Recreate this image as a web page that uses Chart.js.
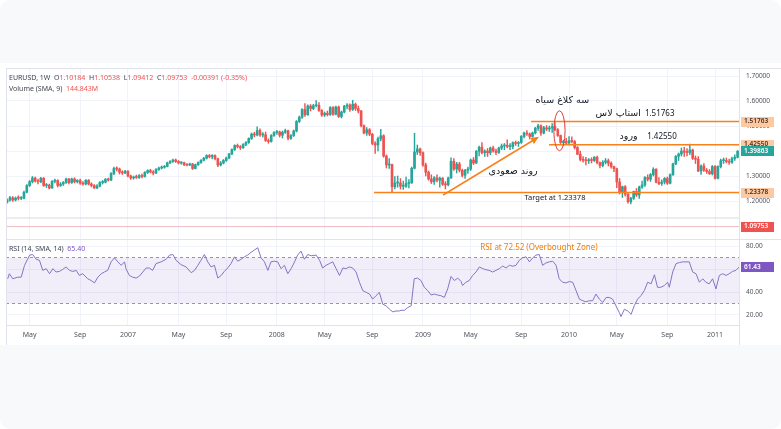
<!DOCTYPE html>
<html>
<head>
<meta charset="utf-8">
<title>EURUSD 1W</title>
<script src="https://cdn.jsdelivr.net/npm/chart.js"></script>
<style>
  body { margin: 0; background: #fff; }
  #frame { position: absolute; left: 0; top: 0; width: 781px; height: 429px; background: #f8f9fb; border-radius: 10px; }
  #panel { position: absolute; left: 0; top: 63px; width: 781px; height: 282px; background: #fff; }
  canvas { position: absolute; left: 0; top: 0; }
</style>
</head>
<body>
<div id="frame"></div>
<div id="panel"></div>
<canvas id="eurusd" width="781" height="429"></canvas>

<script>
// weekly candles, week 0 = first week of March 2006
const firstOpen = 1.195;
const closes = [
  1.203,1.213,1.204,1.212,1.211,1.211,1.235,1.262,1.277,1.292,
  1.280,1.277,1.291,1.262,1.263,1.252,1.279,1.282,1.262,1.268,
  1.274,1.288,1.274,1.288,1.277,1.282,1.271,1.268,1.283,1.268,
  1.262,1.252,1.260,1.274,1.275,1.287,1.284,1.310,1.330,1.328,
  1.315,1.312,1.319,1.300,1.292,1.296,1.294,1.302,1.298,1.314,
  1.322,1.316,1.312,1.326,1.332,1.335,1.338,1.352,1.358,1.364,
  1.358,1.352,1.353,1.345,1.344,1.348,1.330,1.345,1.354,1.363,
  1.371,1.382,1.377,1.382,1.369,1.344,1.352,1.362,1.372,1.388,
  1.406,1.422,1.417,1.413,1.426,1.434,1.450,1.468,1.464,1.482,
  1.464,1.465,1.442,1.438,1.462,1.474,1.476,1.463,1.475,1.481,
  1.451,1.462,1.480,1.518,1.535,1.566,1.545,1.580,1.570,1.581,
  1.583,1.562,1.544,1.551,1.546,1.574,1.547,1.576,1.538,1.556,
  1.579,1.584,1.566,1.587,1.570,1.560,1.501,1.472,1.485,1.467,
  1.430,1.424,1.449,1.461,1.380,1.344,1.346,1.257,1.272,1.272,
  1.259,1.259,1.270,1.273,1.331,1.396,1.408,1.393,1.344,1.315,
  1.288,1.277,1.293,1.283,1.291,1.267,1.265,1.292,1.359,1.328,
  1.348,1.323,1.303,1.323,1.328,1.364,1.352,1.399,1.415,1.393,
  1.400,1.393,1.412,1.400,1.394,1.412,1.420,1.423,1.418,1.418,
  1.433,1.430,1.434,1.458,1.472,1.468,1.458,1.472,1.491,1.501,
  1.472,1.493,1.488,1.492,1.497,1.485,1.462,1.434,1.438,1.432,
  1.441,1.438,1.414,1.387,1.366,1.363,1.361,1.363,1.362,1.375,
  1.353,1.342,1.355,1.361,1.351,1.338,1.329,1.276,1.236,1.257,
  1.227,1.197,1.211,1.238,1.224,1.256,1.264,1.294,1.287,1.306,
  1.327,1.275,1.270,1.276,1.290,1.271,1.305,1.349,1.379,1.388,
  1.400,1.395,1.394,1.404,1.371,1.367,1.320,1.340,1.323,1.318,
  1.309,1.338,1.291,1.338,1.361,1.361,1.358,1.355,1.370,1.375,1.399
];
const highs = [
  1.209,1.219,1.218,1.216,1.221,1.218,1.240,1.266,1.282,1.298,
  1.296,1.288,1.295,1.294,1.270,1.268,1.282,1.288,1.285,1.274,
  1.278,1.292,1.291,1.292,1.293,1.286,1.288,1.278,1.286,1.286,
  1.273,1.266,1.266,1.278,1.282,1.290,1.292,1.314,1.336,1.337,
  1.332,1.321,1.323,1.322,1.304,1.300,1.304,1.306,1.308,1.318,
  1.325,1.327,1.322,1.330,1.336,1.340,1.342,1.356,1.362,1.368,
  1.368,1.362,1.357,1.356,1.349,1.352,1.351,1.348,1.357,1.366,
  1.375,1.385,1.386,1.386,1.385,1.372,1.358,1.366,1.376,1.391,
  1.409,1.425,1.428,1.422,1.430,1.438,1.453,1.472,1.475,1.497,
  1.489,1.474,1.476,1.449,1.466,1.478,1.483,1.480,1.480,1.488,
  1.484,1.466,1.484,1.522,1.540,1.570,1.590,1.585,1.586,1.587,
  1.602,1.594,1.566,1.556,1.560,1.578,1.578,1.580,1.580,1.560,
  1.583,1.590,1.589,1.603,1.592,1.580,1.563,1.505,1.494,1.490,
  1.471,1.438,1.456,1.487,1.465,1.384,1.370,1.348,1.298,1.300,
  1.290,1.280,1.296,1.286,1.336,1.471,1.424,1.412,1.397,1.352,
  1.320,1.305,1.298,1.305,1.296,1.294,1.278,1.296,1.373,1.370,
  1.355,1.355,1.328,1.327,1.336,1.368,1.374,1.402,1.420,1.434,
  1.405,1.410,1.416,1.420,1.408,1.416,1.428,1.430,1.445,1.430,
  1.437,1.440,1.438,1.462,1.476,1.482,1.472,1.476,1.495,1.508,
  1.505,1.499,1.502,1.500,1.510,1.514,1.490,1.464,1.444,1.451,
  1.458,1.457,1.442,1.418,1.400,1.378,1.375,1.370,1.373,1.378,
  1.380,1.357,1.362,1.370,1.368,1.357,1.340,1.332,1.290,1.260,
  1.262,1.232,1.215,1.240,1.250,1.260,1.280,1.298,1.305,1.310,
  1.333,1.330,1.294,1.285,1.294,1.296,1.309,1.352,1.382,1.392,
  1.412,1.415,1.410,1.428,1.408,1.380,1.378,1.345,1.350,1.330,
  1.326,1.342,1.342,1.341,1.368,1.372,1.372,1.368,1.376,1.385,1.402
];
const lows = [
  1.191,1.199,1.198,1.200,1.204,1.205,1.208,1.232,1.258,1.272,
  1.275,1.268,1.273,1.258,1.254,1.248,1.250,1.272,1.256,1.258,
  1.262,1.270,1.268,1.270,1.272,1.272,1.266,1.263,1.264,1.264,
  1.256,1.250,1.249,1.256,1.268,1.272,1.279,1.281,1.305,1.320,
  1.308,1.306,1.309,1.296,1.286,1.287,1.290,1.290,1.292,1.295,
  1.310,1.312,1.304,1.309,1.322,1.328,1.331,1.336,1.349,1.354,
  1.354,1.348,1.347,1.341,1.340,1.341,1.326,1.328,1.342,1.350,
  1.360,1.368,1.372,1.368,1.364,1.337,1.340,1.348,1.358,1.368,
  1.385,1.402,1.412,1.406,1.410,1.421,1.430,1.446,1.456,1.460,
  1.458,1.455,1.438,1.431,1.435,1.458,1.466,1.456,1.452,1.470,
  1.444,1.446,1.458,1.476,1.514,1.530,1.538,1.542,1.560,1.565,
  1.576,1.558,1.538,1.538,1.540,1.542,1.542,1.544,1.534,1.532,
  1.552,1.568,1.558,1.562,1.562,1.552,1.496,1.468,1.462,1.461,
  1.425,1.390,1.400,1.440,1.375,1.332,1.330,1.233,1.248,1.255,
  1.248,1.246,1.254,1.252,1.270,1.328,1.386,1.382,1.338,1.300,
  1.283,1.270,1.266,1.276,1.255,1.262,1.248,1.260,1.290,1.322,
  1.312,1.316,1.296,1.290,1.310,1.322,1.346,1.350,1.380,1.388,
  1.378,1.378,1.385,1.395,1.385,1.390,1.405,1.405,1.412,1.405,
  1.408,1.422,1.418,1.430,1.452,1.462,1.448,1.455,1.468,1.482,
  1.462,1.468,1.481,1.478,1.474,1.481,1.458,1.430,1.425,1.428,
  1.424,1.432,1.408,1.385,1.360,1.355,1.344,1.350,1.352,1.358,
  1.348,1.332,1.336,1.348,1.340,1.331,1.317,1.253,1.228,1.214,
  1.219,1.191,1.188,1.206,1.218,1.210,1.250,1.258,1.280,1.278,
  1.300,1.272,1.265,1.262,1.268,1.266,1.268,1.302,1.345,1.362,
  1.380,1.378,1.380,1.385,1.366,1.350,1.317,1.306,1.318,1.310,
  1.306,1.304,1.287,1.288,1.332,1.350,1.352,1.346,1.350,1.362,1.372
];

// RSI (14): [week, value]
const rsiPoints = [
  [0.2,51.5],[0.8,55.9],[2.0,51.5],[3.8,52.9],[5.0,52.9],[6.2,63.2],[8.0,72.1],[9.1,72.6],[10.3,68.5],[11.5,67.6],
  [12.7,58.8],[13.9,60.3],[15.1,55.9],[16.3,60.3],[17.4,57.4],[18.6,57.9],[19.8,59.7],[21.0,61.8],[22.2,58.8],[23.4,57.9],
  [24.6,58.8],[25.7,54.4],[26.9,55.9],[28.7,51.5],[29.9,50.0],[31.1,47.9],[32.3,52.9],[33.5,55.9],[34.6,57.4],[35.8,58.8],
  [37.0,66.2],[38.2,69.7],[39.4,66.2],[40.6,63.2],[41.8,66.2],[42.3,60.3],[43.5,54.4],[44.7,52.9],[45.9,52.1],[47.1,53.8],
  [48.3,57.4],[49.5,60.9],[50.6,60.9],[51.8,58.8],[53.0,64.7],[54.8,66.2],[56.6,68.5],[57.8,72.1],[59.0,72.6],[60.1,67.6],
  [61.9,63.8],[63.7,61.8],[65.5,56.8],[66.7,58.8],[67.9,63.2],[69.0,67.6],[70.2,72.6],[71.4,66.2],[72.6,61.8],[73.8,63.2],
  [75.0,52.1],[76.2,54.4],[77.3,57.9],[78.5,60.9],[79.7,64.7],[80.9,70.6],[82.1,66.8],[83.3,68.5],[84.5,70.6],[85.6,72.1],
  [86.8,74.4],[88.0,76.5],[89.2,78.5],[90.4,69.7],[91.6,66.2],[92.8,58.8],[93.9,66.2],[95.1,66.8],[96.3,66.2],[97.5,60.3],
  [98.7,63.2],[99.9,55.9],[101.1,60.3],[102.3,66.2],[103.4,72.1],[104.6,75.6],[105.8,68.5],[107.0,72.6],[108.2,71.5],[110.0,72.1],
  [111.2,67.6],[112.3,60.9],[113.5,63.2],[114.7,64.7],[115.9,66.2],[117.1,60.3],[118.3,54.4],[119.5,60.9],[120.6,60.3],[121.8,61.8],
  [123.0,60.9],[124.2,57.4],[125.4,48.5],[126.6,41.2],[127.8,39.7],[129.0,38.2],[130.1,33.8],[131.3,36.8],[132.5,39.7],[133.7,29.4],
  [134.9,28.0],[136.1,25.0],[137.3,22.7],[138.4,23.5],[139.6,23.5],[140.2,24.1],[141.4,24.1],[142.6,26.5],[143.8,28.0],[144.9,51.5],
  [146.1,52.1],[147.3,50.0],[148.5,44.1],[149.7,41.2],[150.9,37.4],[152.1,38.2],[153.2,37.4],[154.4,36.8],[155.6,35.3],[156.8,42.6],
  [158.0,53.5],[159.2,50.0],[160.4,52.1],[161.6,49.1],[162.1,45.6],[163.3,48.5],[164.5,50.0],[165.7,54.4],[166.9,57.4],[168.1,61.8],
  [169.3,60.3],[170.4,59.4],[171.6,58.8],[172.8,57.4],[174.0,58.8],[175.2,60.3],[176.4,62.6],[177.6,60.9],[178.8,63.2],[180.0,62.4],
  [181.1,63.2],[182.3,67.6],[183.5,69.7],[184.7,70.6],[185.9,66.2],[187.1,69.7],[188.2,72.1],[189.4,72.6],[190.6,63.2],[191.8,65.3],
  [193.0,66.2],[194.2,66.8],[195.4,63.2],[196.5,51.5],[197.7,48.5],[198.9,47.9],[200.1,49.1],[201.3,48.5],[202.5,41.2],[203.7,33.8],
  [204.9,32.4],[206.0,31.5],[207.2,32.4],[208.4,32.4],[209.6,38.2],[210.8,33.8],[212.0,30.9],[213.2,35.3],[214.3,35.3],[215.5,33.8],
  [216.7,28.0],[217.9,22.1],[218.5,18.6],[219.7,25.0],[220.9,23.5],[222.1,20.6],[223.2,28.0],[224.4,33.8],[225.6,36.8],[226.8,41.2],
  [228.0,48.5],[229.2,47.1],[230.4,55.0],[231.5,44.1],[232.7,44.1],[233.9,45.6],[235.1,48.5],[235.7,44.1],[236.9,57.4],[238.1,64.7],
  [239.3,65.6],[240.4,66.2],[241.6,66.2],[242.8,66.2],[244.0,57.4],[245.2,55.9],[246.4,48.5],[247.6,51.5],[248.7,48.5],[249.9,47.1],
  [251.1,51.5],[252.3,42.7],[253.5,54.4],[254.7,55.9],[255.9,54.4],[257.0,55.9],[258.2,57.9],[259.4,58.8],[260.6,61.8]
];

const tickWeeks = [8, 26, 43, 61, 78, 96, 113, 130, 148, 165, 183, 200, 217, 235, 252];
const tickLabels = ['May','Sep','2007','May','Sep','2008','May','Sep','2009','May','Sep','2010','May','Sep','2011'];
const priceTicks = [1.1, 1.2, 1.3, 1.4, 1.5, 1.6, 1.7];
const rsiTicks = [20, 40, 60, 80];

const stopLoss = 1.51763, entry = 1.42550, target = 1.23378;
const lastPrice = 1.39863, quotePrice = 1.09753, volumeLine = 1.132, rsiLast = 61.43;
const overbought = 70, oversold = 30;

// ---------------------------------------------------------------
const UP = '#26a69a', DOWN = '#ef5350', ORANGE = '#f7821b', PURPLE = '#7e57c2';
const FONT = '"Noto Sans", "DejaVu Sans", sans-serif';
const AR_FONT = '"DejaVu Sans", sans-serif';
const LAST = closes.length - 1 + 0.5;

const weeks = closes.map((_, i) => i);
const opens = closes.map((c, i) => i === 0 ? firstOpen : closes[i - 1]);
const candleColor = weeks.map(i => closes[i] >= opens[i] ? UP : DOWN);

function hline(y, from, color, width, extra) {
  return Object.assign({
    type: 'line', yAxisID: 'y', data: [{ x: from, y: y }, { x: LAST, y: y }],
    borderColor: color, borderWidth: width, pointRadius: 0, fill: false, order: 0
  }, extra || {});
}

const overlay = {
  id: 'overlay',
  afterDraw(chart) {
    const { ctx, chartArea } = chart;
    const x = chart.scales.x, py = chart.scales.y, ry = chart.scales.rsi;
    ctx.save();

    // frame lines
    ctx.strokeStyle = '#e0e3eb';
    ctx.lineWidth = 1;
    ctx.beginPath();
    ctx.moveTo(chartArea.left, ry.top + 0.5); ctx.lineTo(781, ry.top + 0.5);
    ctx.moveTo(chartArea.left, chartArea.top - 0.5); ctx.lineTo(781, chartArea.top - 0.5);
    ctx.moveTo(chartArea.left + 0.5, chartArea.top); ctx.lineTo(chartArea.left + 0.5, chartArea.bottom + 20);
    ctx.moveTo(chartArea.right + 0.5, chartArea.bottom); ctx.lineTo(chartArea.right + 0.5, chartArea.bottom + 20);
    ctx.stroke();

    // three black crows ellipse
    const cx = x.getPixelForValue(196.6), cy = py.getPixelForValue(1.481);
    const rx = x.getPixelForValue(198.6) - cx, rY = cy - py.getPixelForValue(1.561);
    ctx.strokeStyle = '#e53935';
    ctx.lineWidth = 1;
    ctx.beginPath();
    ctx.ellipse(cx, cy, rx, rY, 0, 0, Math.PI * 2);
    ctx.stroke();

    // arrow head of the trend arrow
    const ax0 = x.getPixelForValue(155.2), ay0 = py.getPixelForValue(1.224);
    const ax1 = x.getPixelForValue(189.3), ay1 = py.getPixelForValue(1.457);
    const ang = Math.atan2(ay1 - ay0, ax1 - ax0);
    ctx.fillStyle = ORANGE;
    ctx.beginPath();
    ctx.moveTo(ax1, ay1);
    ctx.lineTo(ax1 - 8 * Math.cos(ang) + 3.5 * Math.sin(ang), ay1 - 8 * Math.sin(ang) - 3.5 * Math.cos(ang));
    ctx.lineTo(ax1 - 8 * Math.cos(ang) - 3.5 * Math.sin(ang), ay1 - 8 * Math.sin(ang) + 3.5 * Math.cos(ang));
    ctx.closePath();
    ctx.fill();

    // annotations
    function note(text, wk, scale, val, align, font, color) {
      ctx.font = font;
      ctx.fillStyle = color || '#131722';
      ctx.textAlign = align;
      ctx.textBaseline = 'middle';
      ctx.fillText(text, x.getPixelForValue(wk), scale.getPixelForValue(val));
    }
    const arFont = '9.5px ' + AR_FONT, numFont = '8px ' + FONT;
    note('سه کلاغ سیاه', 197.6, py, 1.601, 'center', arFont);
    note('استاپ لاس', 225.6, py, 1.548, 'right', arFont);
    note(stopLoss.toFixed(5), 227.0, py, 1.548, 'left', numFont);
    note('ورود', 224.4, py, 1.456, 'right', arFont);
    note(entry.toFixed(5), 227.8, py, 1.456, 'left', numFont);
    note('روند صعودی', 180.1, py, 1.316, 'center', arFont);
    note('Target at ' + target.toFixed(5), 195.0, py, 1.212, 'center', '7.5px ' + FONT);
    note('RSI at 72.52 (Overbought Zone)', 189.3, ry, 78.3, 'center', '8px ' + FONT, '#f57c00');

    // legends
    function segs(list, x0, y0) {
      ctx.font = '7px ' + FONT;
      ctx.textAlign = 'left';
      ctx.textBaseline = 'middle';
      let xx = x0;
      list.forEach(([t, c]) => { ctx.fillStyle = c; ctx.fillText(t, xx, y0); xx += ctx.measureText(t).width; });
    }
    const D = '#434651';
    segs([['EURUSD, 1W  ', D], ['O', D], ['1.10184  ', DOWN], ['H', D], ['1.10538  ', DOWN], ['L', D], ['1.09412  ', DOWN],
          ['C', D], ['1.09753  ', DOWN], ['-0.00391 (-0.35%)', DOWN]], 9, 78);
    segs([['Volume (SMA, 9)  ', D], ['144.843M', DOWN]], 9, 89);
    segs([['RSI (14, SMA, 14)  ', D], ['65.40', PURPLE]], 9, ry.top + 10);

    // axis tags
    function tag(scale, val, text, bg, fg) {
      const yy = scale.getPixelForValue(val);
      ctx.fillStyle = bg;
      ctx.fillRect(chartArea.right + 2, Math.round(yy) - 5, 33, 10);
      ctx.fillStyle = fg;
      ctx.font = '600 6.5px ' + FONT;
      ctx.textAlign = 'left';
      ctx.textBaseline = 'middle';
      ctx.fillText(text, chartArea.right + 5, yy);
    }
    tag(py, stopLoss, stopLoss.toFixed(5), '#fcc9a3', '#4a3020');
    tag(py, entry, entry.toFixed(5), '#fcc9a3', '#4a3020');
    tag(py, target, target.toFixed(5), '#fcc9a3', '#4a3020');
    tag(py, lastPrice, lastPrice.toFixed(5), UP, '#fff');
    tag(py, quotePrice, quotePrice.toFixed(5), DOWN, '#fff');
    tag(ry, rsiLast, rsiLast.toFixed(2), PURPLE, '#fff');
    ctx.restore();
  }
};

new Chart(document.getElementById('eurusd'), {
  type: 'bar',
  data: {
    datasets: [
      hline(stopLoss, 186.5, ORANGE, 1.5),
      hline(entry, 192.9, ORANGE, 1.5),
      hline(target, 130.6, ORANGE, 1.5),
      {
        type: 'line', yAxisID: 'y', data: [{ x: 155.2, y: 1.224 }, { x: 188.6, y: 1.452 }],
        borderColor: ORANGE, borderWidth: 1.5, pointRadius: 0, fill: false, order: 0
      },
      {
        label: 'body', yAxisID: 'y', order: 1, grouped: false,
        data: weeks.map(i => ({ x: i, y: [opens[i], closes[i]] })),
        backgroundColor: candleColor, barThickness: 2, minBarLength: 1, borderWidth: 0
      },
      {
        label: 'wick', yAxisID: 'y', order: 2, grouped: false,
        data: weeks.map(i => ({ x: i, y: [lows[i], highs[i]] })),
        backgroundColor: candleColor, barThickness: 0.8, borderWidth: 0
      },
      hline(volumeLine, -0.4, '#d6d9e0', 1, { order: 3 }),
      hline(quotePrice, -0.4, 'rgba(239,83,80,0.35)', 1, { order: 3 }),
      {
        type: 'line', yAxisID: 'rsi', order: 0, label: 'RSI',
        data: rsiPoints.map(p => ({ x: p[0], y: p[1] })),
        borderColor: '#8474c4', borderWidth: 1, pointRadius: 0, fill: false, tension: 0
      },
      {
        type: 'line', yAxisID: 'rsi', order: 4,
        data: [{ x: -0.4, y: overbought }, { x: LAST, y: overbought }],
        borderColor: '#9598a1', borderWidth: 1, borderDash: [3, 3], pointRadius: 0, fill: false
      },
      {
        type: 'line', yAxisID: 'rsi', order: 4,
        data: [{ x: -0.4, y: oversold }, { x: LAST, y: oversold }],
        borderColor: '#9598a1', borderWidth: 1, borderDash: [3, 3], pointRadius: 0,
        fill: '-1', backgroundColor: 'rgba(126,87,194,0.1)'
      }
    ]
  },
  options: {
    responsive: false,
    animation: false,
    events: [],
    layout: { padding: { left: 6, top: 69, right: 0, bottom: 84 } },
    plugins: { legend: { display: false }, tooltip: { enabled: false } },
    scales: {
      x: {
        type: 'linear', min: -0.4, max: LAST, offset: false,
        afterFit: s => { s.height = 20; },
        afterBuildTicks: s => { s.ticks = tickWeeks.map(v => ({ value: v })); },
        ticks: {
          autoSkip: false, maxRotation: 0, padding: 6, color: '#50535e',
          font: { size: 7, family: FONT },
          callback: (v, i) => tickLabels[i]
        },
        grid: { color: '#f0f3fa', drawTicks: false, offset: false },
        border: { color: '#e0e3eb' }
      },
      y: {
        type: 'linear', position: 'right', stack: 'panes', stackWeight: 170,
        min: 1.048, max: 1.728,
        afterFit: s => { s.width = 42; },
        afterBuildTicks: s => { s.ticks = priceTicks.map(v => ({ value: v })); },
        ticks: { padding: 7, color: '#50535e', font: { size: 6.5, family: FONT }, callback: v => v.toFixed(5) },
        grid: { color: '#f0f3fa', drawTicks: false },
        border: { color: '#e0e3eb' }
      },
      rsi: {
        type: 'linear', position: 'right', stack: 'panes', stackWeight: 86,
        min: 11.3, max: 86.1,
        afterFit: s => { s.width = 42; },
        afterBuildTicks: s => { s.ticks = rsiTicks.map(v => ({ value: v })); },
        ticks: { padding: 7, color: '#50535e', font: { size: 6.5, family: FONT }, callback: v => v.toFixed(2) },
        grid: { color: '#f0f3fa', drawTicks: false },
        border: { color: '#e0e3eb' }
      }
    }
  },
  plugins: [overlay]
});
</script>
</body>
</html>
